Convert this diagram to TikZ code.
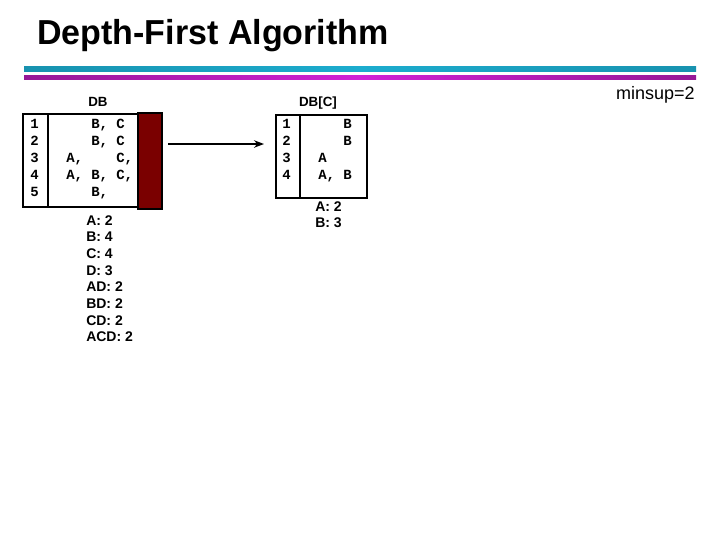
\documentclass[tikz,border=0pt]{standalone}
\usepackage{fontspec}
\setmainfont{Liberation Sans}
\setmonofont{Liberation Mono}
\usetikzlibrary{arrows.meta,positioning}

\definecolor{bandcyan}{RGB}{28,172,206}
\definecolor{bandpurple}{RGB}{150,24,150}
\definecolor{bandmagenta}{RGB}{208,34,214}
\definecolor{dbred}{RGB}{122,0,0}

% one column of an item row
\newcommand{\itm}[1]{\makebox[18.75pt][l]{#1}}

\tikzset{
  rowtxt/.style={font=\ttfamily\bfseries\fontsize{10.5}{12}\selectfont, inner sep=0pt, anchor=base west},
  cnttxt/.style={font=\bfseries\fontsize{10.5}{12.5}\selectfont, align=left, inner sep=0pt, anchor=north west},
  dblabel/.style={font=\bfseries\fontsize{10}{12}\selectfont, inner sep=0pt, anchor=base},
  dbbox/.style={draw=black, line width=1.1pt},
}

\begin{document}
\begin{tikzpicture}[x=0.75pt,y=-0.75pt,>=Stealth]
  \useasboundingbox (0,0) rectangle (720,540);
  \node[anchor=base west, inner sep=0pt, font=\bfseries\fontsize{25}{30}\selectfont] (title) at (37,44) {\scalebox{1.02}[1.04]{Depth-First Algorithm}};
  % header bands
  \shade[left color=bandcyan!85!black, right color=bandcyan!85!black, middle color=bandcyan] (24,66) rectangle (696,71.5);
  \shade[left color=bandpurple, right color=bandpurple, middle color=bandmagenta] (24,75) rectangle (696,79);
  \node[anchor=base east, inner sep=0pt, font=\fontsize{13.5}{16}\selectfont] (minsup) at (695,99) {minsup=2};

  % DB
  \node[dblabel] (dbname) at (98,106) {DB};
  \draw[dbbox] (23,114) rectangle (138,207);
  \draw[dbbox] (48,114) -- (48,207);
  \draw[dbbox, fill=dbred] (138,113) rectangle (162,209);
  \foreach \n/\a/\b/\c in {1/{}/{B,}/{C}, 2/{}/{B,}/{C}, 3/{A,}/{}/{C,}, 4/{A,}/{B,}/{C,}, 5/{}/{B,}/{}}{
    \node[rowtxt] (dbn\n) at (30,111+17*\n) {\n};
    \node[rowtxt] (dbr\n) at (66,111+17*\n) {\itm{\a}\itm{\b}\itm{\c}};
  }
  \node[cnttxt] (dbcnt) at (86,215) {A: 2\\B: 4\\C: 4\\D: 3\\AD: 2\\BD: 2\\CD: 2\\ACD: 2};

  % DB[C]
  \coordinate (from) at (168,144);
  \coordinate (to) at (264,144);
  \draw[->, line width=1pt] (from) -- (to);
  \node[dblabel] (dbcname) at (318,106) {DB[C]};
  \draw[dbbox] (276,115) rectangle (367,198);
  \draw[dbbox] (300,115) -- (300,198);
  \foreach \n/\a/\b in {1/{}/{B}, 2/{}/{B}, 3/{A}/{}, 4/{A,}/{B}}{
    \node[rowtxt] (dbcn\n) at (282,111+17*\n) {\n};
    \node[rowtxt] (dbcr\n) at (318,111+17*\n) {\itm{\a}\itm{\b}};
  }
  \node[cnttxt] (dbccnt) at (315,201) {A: 2\\B: 3};
\end{tikzpicture}
\end{document}
